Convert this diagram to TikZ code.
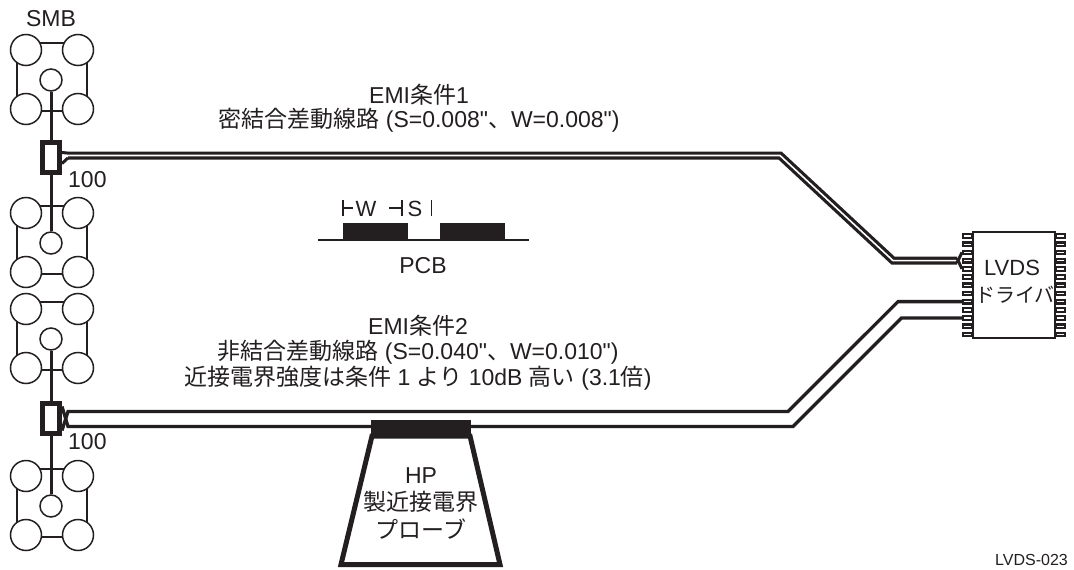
\documentclass[tikz,border=0pt]{standalone}
\usepackage{fontspec}
\setmainfont{Liberation Sans}
\newfontfamily\jp{Noto Sans CJK JP}
% same face without the TeX quote mapping, for the straight inch mark
\newfontfamily\plainfont{Liberation Sans}[Ligatures=ResetAll]
\definecolor{ink}{HTML}{231F20}
\newcommand\inchmark{{\plainfont\char34}}
\tikzset{
  padframe/.style={draw=ink, line width=1.5pt},
  bigpad/.style={circle, draw=ink, fill=white, line width=1.5pt, minimum size=31pt, inner sep=0pt},
  smallpad/.style={circle, draw=ink, fill=white, line width=1.5pt, minimum size=22pt, inner sep=0pt},
  center pin/.style={draw=ink, line width=3pt},
  resistor/.style={rectangle, draw=ink, fill=white, line width=5pt, minimum width=17pt, minimum height=30pt, inner sep=0pt},
  pairline/.style={draw=ink, line width=3.2pt, double=white, double distance=1.6pt, line join=miter},
  wire/.style={draw=ink, line width=3.3pt, line join=miter},
  pin/.style={rectangle, draw=ink, fill=white, line width=2.2pt, minimum width=9pt, minimum height=3.6pt, inner sep=0pt},
  chip/.style={rectangle, draw=ink, fill=white, line width=2.5pt, minimum width=82pt, minimum height=106pt, inner sep=0pt},
  lbl/.style={font=\fontsize{23}{28}\selectfont, text=ink, inner sep=0pt, anchor=base},
  small lbl/.style={font=\fontsize{16}{19}\selectfont, text=ink, inner sep=0pt},
  dimline/.style={draw=ink, line width=1.5pt},
}
\begin{document}
\begin{tikzpicture}[x=1pt, y=-1pt]
\fill[white] (0,0) rectangle (1074,570);
\useasboundingbox (0,0) rectangle (1074,570);

% ---- termination resistors and driver chip ----
\node[resistor] (r1) at (51,157.5) {};
\node[resistor] (r2) at (51,418.5) {};
\node[chip] (ic) at (1014,285) {};
\foreach \k in {1,...,13} {
  \node[pin] (pl\k) at (967.5,{236+8.2*(\k-1)}) {};
  \node[pin] (pr\k) at (1060.5,{236+8.2*(\k-1)}) {};
}

% ---- differential pair 1 (tightly coupled) ----
\coordinate (a0) at (68,155.5);
\coordinate (a1) at (957,260.6);
\draw[pairline] (a0) -- (780,155.5) -- (893,260.6) -- (a1);
\draw[wire, line width=3pt] ([yshift=-2.4pt]a0) -- ([yshift=-6pt]r1.east);
\draw[wire, line width=3pt] ([yshift=2.4pt]a0) -- ([yshift=5pt]r1.east);
\draw[wire, line width=3pt] ([yshift=-2.4pt]a1) -- (pl3.west);
\draw[wire, line width=3pt] ([yshift=2.4pt]a1) -- (pl5.west);

% ---- differential pair 2 (loosely coupled) ----
\coordinate (b0) at (68,411.5);
\coordinate (c0) at (68,426.5);
\draw[wire] ([yshift=-12pt]r2.east) -- (b0) -- (788,411.5) -- (898,301.6) -- (pl9.west);
\draw[wire] ([yshift=12pt]r2.east) -- (c0) -- (793,426.5) -- (901.5,318) -- (pl11.west);
\node[resistor] at (r2) {};
\node[resistor] at (r1) {};

% ---- SMB connectors ----
\foreach \n/\c in {1/80,2/243,3/339,4/506} {
  \draw[padframe] (17,\c-37) rectangle (87,\c+31);
  \node[bigpad] (j\n a) at (26,\c-30) {};
  \node[bigpad] (j\n b) at (78,\c-30) {};
  \node[bigpad] (j\n c) at (26,\c+29) {};
  \node[bigpad] (j\n d) at (78,\c+29) {};
  \node[smallpad] (j\n s) at (51,\c) {};
}
\draw[center pin] (j1s.south) -- (r1.north);
\draw[center pin] (r1.south) -- (j2s.north);
\draw[center pin] (j3s.south) -- (r2.north);
\draw[center pin] (r2.south) -- (j4s.north);

% ---- near-field probe ----
\draw[draw=ink, fill=white, line width=5pt, line join=miter]
  (372,436) -- (470,436) -- (500,564.5) -- (341,564.5) -- cycle;
\node[rectangle, fill=ink, minimum width=100pt, minimum height=17pt, inner sep=0pt] (tip) at (421,428.5) {};
\node[lbl] (hp) at (421,483) {HP};
\node[lbl] (hp2) at (421,510) {\jp 製近接電界};
\node[lbl] (hp3) at (421,538) {\jp プローブ};

% ---- PCB cross-section ----
\draw[draw=ink, line width=2.5pt] (318,240) -- (529,240);
\fill[ink] (343,223) rectangle (408,239);
\fill[ink] (440,223) rectangle (505,239);
\draw[dimline] (343,200) -- (343,216) (343,208) -- (353,208);
\node[lbl, font=\fontsize{22}{26}\selectfont] (w) at (366,216) {W};
\draw[dimline] (389,208) -- (402,208) (402,200) -- (402,216);
\node[lbl, font=\fontsize{22}{26}\selectfont] (s) at (415,216) {S};
\draw[dimline] (431.5,200) -- (431.5,216);
\node[lbl] (pcb) at (423,273) {PCB};

% ---- labels ----
\node[lbl] (smb) at (51,27) {SMB};
\node[lbl, anchor=base west] (r1v) at (68,187) {100};
\node[lbl, anchor=base west] (r2v) at (68,449) {100};
\node[lbl] (e1) at (419,103) {EMI{\jp 条件}1};
\node[lbl] (e1b) at (419,127) {{\jp 密結合差動線路} (S=0.008\inchmark{\jp 、}W=0.008\inchmark)};
\node[lbl] (e2) at (418,334) {EMI{\jp 条件}2};
\node[lbl] (e2b) at (418,359) {{\jp 非結合差動線路} (S=0.040\inchmark{\jp 、}W=0.010\inchmark)};
\node[lbl] (e2c) at (418,385) {{\jp 近接電界強度は条件} 1 {\jp より} 10dB {\jp 高い} (3.1{\jp 倍})};
\node[lbl, font=\fontsize{22}{26}\selectfont] (icl1) at (1012,275) {LVDS};
\node[lbl, font=\fontsize{20}{24}\selectfont] (icl2) at (1015,302) {\jp ドライバ};
\node[small lbl, anchor=base east] (fig) at (1068,565) {LVDS-023};
\end{tikzpicture}
\end{document}
